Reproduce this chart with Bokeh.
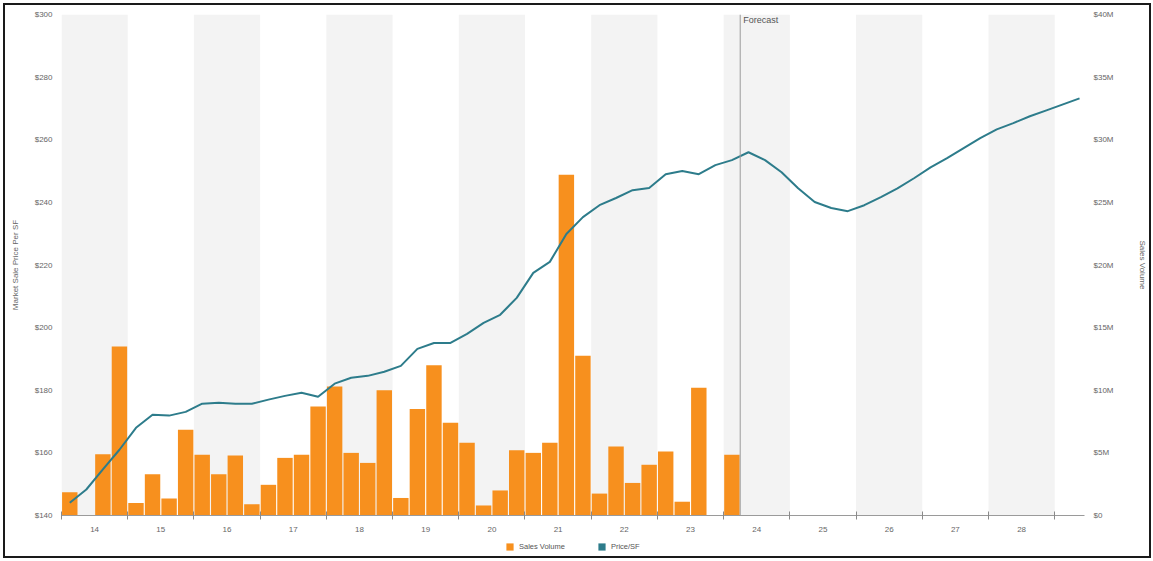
from bokeh.plotting import figure
from bokeh.layouts import column
from bokeh.models import (Range1d, LinearAxis, FixedTicker, CustomJSTickFormatter,
                          BoxAnnotation, Span, Label, Legend, LegendItem, ColumnDataSource)
from bokeh.embed import file_html
from bokeh.resources import INLINE

# ---------------- data ----------------
year_labels = [14, 15, 16, 17, 18, 19, 20, 21, 22, 23, 24, 25, 26, 27, 28]
shaded_years = [2014, 2016, 2018, 2020, 2022, 2024, 2026, 2028]
forecast_start = 2024.25

# quarterly sales volume ($M), 2014 Q1 .. 2024 Q1
volume_m = [1.85, 0.0, 4.9, 13.5,
            1.0, 3.3, 1.35, 6.85,
            4.85, 3.3, 4.8, 0.9,
            2.45, 4.6, 4.85, 8.7,
            10.3, 5.0, 4.2, 10.0,
            1.4, 8.5, 12.0, 7.4,
            5.8, 0.8, 2.0, 5.2,
            5.0, 5.8, 27.2, 12.75,
            1.75, 5.5, 2.6, 4.05,
            5.1, 1.1, 10.2, 0.0,
            4.85]

# quarterly market sale price per SF, 2014 Q1 .. 2029 Q2 (incl. forecast)
price_sf = [144.1, 148.3, 154.7, 161.0,
            168.0, 172.2, 171.9, 173.1,
            175.7, 176.0, 175.7, 175.7,
            177.0, 178.2, 179.2, 177.9,
            182.1, 184.0, 184.6, 185.9,
            187.8, 193.2, 195.1, 195.1,
            198.0, 201.5, 204.1, 209.5,
            217.5, 221.0, 229.9, 235.3,
            239.1, 241.4, 243.9, 244.6,
            249.0, 250.0, 249.0, 251.9,
            253.5, 256.0, 253.5, 249.6,
            244.5, 240.1, 238.2, 237.2,
            239.1, 241.7, 244.5, 247.7,
            251.2, 254.1, 257.3, 260.5,
            263.3, 265.3, 267.5, 269.4,
            271.3, 273.2]

price_ticks = [140, 160, 180, 200, 220, 240, 260, 280, 300]
volume_ticks_m = [0, 5, 10, 15, 20, 25, 30, 35, 40]

START = 2014
vol_x = [START + (i + 0.5) / 4 for i in range(len(volume_m))]
price_x = [START + (i + 0.5) / 4 for i in range(len(price_sf))]

ORANGE = "#f7901e"
TEAL = "#2d7c8b"
FONT = "Liberation Sans"
TXT = "#666666"

p = figure(width=1144, height=529, output_backend="svg", toolbar_location=None,
           x_range=Range1d(2014, 2029.45), y_range=Range1d(140, 300),
           min_border_left=56, min_border_top=9, min_border_right=62, min_border_bottom=18)
p.outline_line_color = None
p.background_fill_color = "white"
p.border_fill_color = "white"
p.extra_y_ranges = {"vol": Range1d(0, 40)}

# alternating year bands
for y in shaded_years:
    p.add_layout(BoxAnnotation(left=y, right=y + 1, fill_color="#f3f3f3", fill_alpha=1.0,
                               line_color=None, level="image"))

# grids
p.xgrid.grid_line_color = None
p.ygrid.grid_line_color = None

# bars
src_v = ColumnDataSource(dict(x=vol_x, top=volume_m))
bars = p.vbar(x="x", top="top", width=0.233, bottom=0, source=src_v, y_range_name="vol",
              fill_color=ORANGE, line_color=None)

# price line
src_p = ColumnDataSource(dict(x=price_x, y=price_sf))
line = p.line(x="x", y="y", source=src_p, line_color=TEAL, line_width=2)

# forecast marker
p.add_layout(Span(location=forecast_start, dimension="height", line_color="#9a9a9a", line_width=1))
p.add_layout(Label(x=forecast_start, y=300, x_offset=3, y_offset=-10, text="Forecast",
                   text_font=FONT, text_font_size="9px", text_color="#555555"))

# x axis
xa = p.xaxis[0]
xa.ticker = FixedTicker(ticks=[2000 + y + 0.5 for y in year_labels],
                        minor_ticks=[2000 + y for y in year_labels] + [2029])
xa.formatter = CustomJSTickFormatter(code="return String(Math.floor(tick) % 100)")
xa.major_tick_line_color = None
xa.major_tick_in = 0
xa.major_tick_out = 0
xa.minor_tick_line_color = "#8a8a8a"
xa.minor_tick_in = 4
xa.minor_tick_out = 4
xa.axis_line_color = "#9a9a9a"
xa.major_label_standoff = 7
xa.major_label_text_font = FONT
xa.major_label_text_font_size = "8px"
xa.major_label_text_color = TXT

# left axis
ya = p.yaxis[0]
ya.ticker = FixedTicker(ticks=price_ticks)
ya.formatter = CustomJSTickFormatter(code="return '$' + tick.toFixed(0)")
ya.axis_line_color = None
ya.major_tick_line_color = None
ya.minor_tick_line_color = None
ya.major_tick_out = 0
ya.major_tick_in = 0
ya.major_label_standoff = 9
ya.major_label_text_font = FONT
ya.major_label_text_font_size = "8px"
ya.major_label_text_color = TXT
ya.axis_label = "Market Sale Price Per SF"
ya.axis_label_text_font = FONT
ya.axis_label_text_font_size = "8px"
ya.axis_label_text_font_style = "normal"
ya.axis_label_text_color = TXT
ya.axis_label_standoff = 12

# right axis
ra = LinearAxis(y_range_name="vol", ticker=FixedTicker(ticks=volume_ticks_m),
                formatter=CustomJSTickFormatter(code="return tick == 0 ? '$0' : '$' + tick + 'M'"))
ra.axis_line_color = None
ra.major_tick_line_color = None
ra.minor_tick_line_color = None
ra.major_tick_out = 0
ra.major_tick_in = 0
ra.major_label_standoff = 9
ra.major_label_text_font = FONT
ra.major_label_text_font_size = "8px"
ra.major_label_text_color = TXT
ra.axis_label = "Sales Volume"
ra.axis_label_text_font = FONT
ra.axis_label_text_font_size = "8px"
ra.axis_label_text_font_style = "normal"
ra.axis_label_text_color = TXT
ra.axis_label_standoff = 21
p.add_layout(ra, "right")

# ---------- legend strip (separate small figure below the chart) ----------
lg = figure(width=1144, height=22, output_backend="svg", toolbar_location=None,
            x_axis_location=None, y_axis_location=None,
            min_border=0, min_border_left=0, min_border_right=0,
            min_border_top=0, min_border_bottom=0)
lg.outline_line_color = None
lg.grid.grid_line_color = None
lg.background_fill_color = "white"
lg.border_fill_color = "white"
# zero-width bars: nothing visible, they only carry the legend swatches
sw_vol = lg.vbar(x="x", top="top", width=0, bottom=0, source=src_v,
                 fill_color=ORANGE, line_color=None)
sw_price = lg.vbar(x="x", top="y", width=0, bottom=0, source=src_p,
                   fill_color=TEAL, line_color=None)
legend = Legend(items=[LegendItem(label="Sales Volume", renderers=[sw_vol]),
                       LegendItem(label="Price/SF", renderers=[sw_price])],
                orientation="horizontal", location=(444, 5),
                label_text_font=FONT, label_text_font_size="7.5px", label_text_color="#555555",
                glyph_width=9, glyph_height=9, label_standoff=5, spacing=32,
                padding=3, margin=0, border_line_color=None, background_fill_alpha=0)
lg.add_layout(legend, "center")

layout = column(p, lg, spacing=0)
layout.styles = {"border": "2px solid #1a1a1a", "margin": "3px"}

open("out.html", "w").write(file_html(layout, INLINE))
